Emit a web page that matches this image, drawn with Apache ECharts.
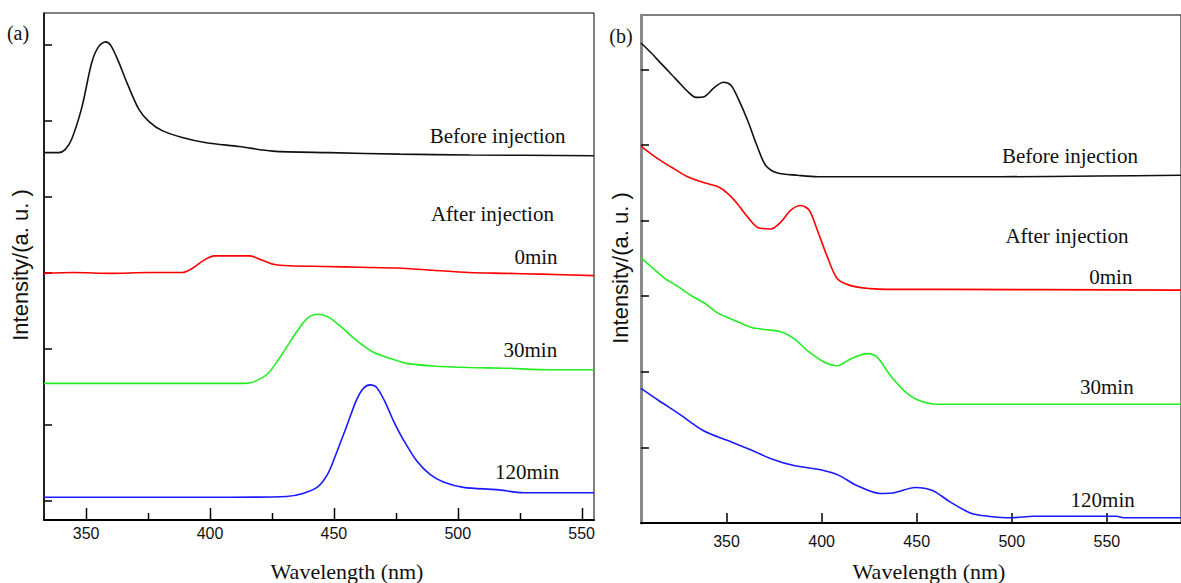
<!DOCTYPE html>
<html><head><meta charset="utf-8">
<script src="https://cdn.jsdelivr.net/npm/echarts@6/dist/echarts.min.js"></script>
<style>html,body{margin:0;padding:0;background:#fff}#c{width:1181px;height:583px}</style>
</head><body><div id="c"></div>
<script>
// ---------- Panel (a): photoluminescence, [wavelength nm, intensity a.u.] ----------
const aBefore = [[333,4.84],[338.9,4.84],[341.5,4.88],[344.2,5.02],[348.3,5.44],[352.3,6.03],[355.1,6.24],[357.9,6.30],[360.0,6.25],[363.2,6.03],[366.5,5.76],[371.3,5.41],[375.4,5.25],[380.7,5.13],[388.8,5.04],[398.5,4.97],[411.9,4.92],[425.2,4.86],[448.3,4.84],[476.6,4.82],[505.0,4.81],[555,4.80]];
const a0min = [[333.0,3.25],[345,3.26],[360,3.25],[375,3.26],[388.7,3.26],[393.1,3.32],[397.4,3.42],[401.7,3.48],[416.2,3.48],[420.5,3.43],[425.6,3.37],[432.1,3.35],[446.6,3.34],[461.0,3.33],[475.5,3.32],[490.0,3.29],[504.5,3.26],[518.9,3.25],[533.4,3.24],[555,3.22]];
const a30min = [[333.0,1.80],[414.0,1.80],[417.7,1.82],[423.4,1.93],[429.2,2.19],[435.0,2.48],[439.4,2.66],[443.7,2.71],[448.0,2.67],[453.8,2.52],[458.2,2.39],[465.4,2.22],[472.6,2.13],[479.9,2.06],[490.0,2.03],[504.5,2.01],[518.9,2.00],[537.7,1.98],[555,1.98]];
const a120min = [[333,0.30],[407.8,0.30],[430.8,0.31],[437.5,0.35],[443.6,0.44],[447.6,0.61],[451.0,0.88],[455.1,1.23],[459.1,1.58],[461.8,1.73],[464.5,1.78],[467.2,1.75],[470.6,1.56],[474.0,1.31],[478.0,1.06],[483.4,0.78],[488.8,0.60],[494.2,0.50],[502.3,0.43],[515.8,0.40],[526.6,0.36],[555,0.36]];
// ---------- Panel (b) ----------
const bBefore = [[305,6.35],[310.3,6.22],[315.5,6.08],[320.8,5.94],[326.0,5.80],[329.5,5.71],[333.9,5.63],[338.3,5.64],[343.5,5.76],[348.4,5.83],[352.3,5.79],[355.8,5.63],[361.0,5.33],[366.3,4.97],[370.6,4.73],[376.8,4.63],[387.3,4.60],[397.8,4.58],[425.7,4.58],[460.8,4.58],[493.3,4.58],[545.8,4.59],[589,4.60]];
const b0min = [[305,4.99],[306.8,4.95],[313.8,4.82],[320.8,4.71],[329.5,4.58],[338.3,4.50],[345.3,4.45],[350.5,4.36],[355.8,4.22],[361.0,4.05],[366.3,3.91],[373.3,3.89],[378.5,3.98],[383.8,4.14],[389.0,4.20],[393.4,4.14],[397.8,3.87],[403.0,3.52],[408.3,3.23],[415.3,3.14],[425.7,3.10],[434.5,3.09],[460.8,3.09],[589,3.08]];
const b30min = [[305,3.51],[310.3,3.39],[317.3,3.24],[324.3,3.13],[331.3,3.01],[338.3,2.91],[345.3,2.78],[352.3,2.70],[362.8,2.59],[369.8,2.56],[378.5,2.53],[385.5,2.44],[392.5,2.28],[401.3,2.13],[408.3,2.08],[415.3,2.17],[424.0,2.24],[429.3,2.19],[436.2,1.95],[443.3,1.75],[450.3,1.63],[460.8,1.57],[513.3,1.57],[589,1.57]];
const b120min = [[305,1.78],[314.3,1.62],[325.2,1.44],[337.9,1.22],[350.7,1.09],[363.5,0.96],[374.5,0.84],[385.4,0.76],[400.0,0.70],[409.1,0.63],[418.2,0.50],[431.0,0.39],[438.3,0.40],[449.2,0.47],[458.3,0.43],[467.5,0.28],[478.5,0.13],[487.5,0.09],[500.3,0.07],[511.3,0.09],[555.1,0.09],[558.7,0.07],[589,0.07]];
// ---------- Ticks and labels ----------
const aMajorTicks = [350,400,450,500,550];
const aMinorTicks = [375,425,475,525];
const bMajorTicks = [350,400,450,500,550];
const aYTicks = [0.26,1.26,2.26,3.26,4.26,5.26,6.26];
const bYTicks = [0,1,2,3,4,5,6];
const aLabels = [["Before injection",516.1,5.06],["After injection",514.0,4.03],["0min",531.6,3.47],["30min",529.3,2.24],["120min",528.0,0.63]];
const bLabels = [["Before injection",530.6,4.85],["After injection",529.0,3.79],["0min",552.1,3.25],["30min",550.0,1.80],["120min",547.8,0.30]];

const serif = "'Liberation Serif','Times New Roman',serif";
const sans = "'Liberation Sans',Arial,sans-serif";

const chart = echarts.init(document.getElementById('c'), null, {renderer:'svg'});

function xAx(grid, min, max, ticks, len, tickShow, margin){
  return {type:'value', gridIndex:grid, min:min, max:max, position:'bottom',
    axisLine:{show:true, lineStyle:{color:'#000', width:2}},
    axisTick:{show:tickShow, inside:true, length:len, customValues:ticks, lineStyle:{color:'#000', width:1.5}},
    axisLabel:{show:true, customValues:ticks, margin:margin, color:'#111', fontSize:16, fontFamily:sans},
    splitLine:{show:false}};
}
function yAx(grid, min, max, ticks, color, width){
  return {type:'value', gridIndex:grid, min:min, max:max,
    axisLine:{show:true, lineStyle:{color:color, width:width}},
    axisTick:{show:true, inside:true, length:8, customValues:ticks, lineStyle:{color:'#000', width:1.5}},
    axisLabel:{show:false}, splitLine:{show:false}};
}
function line(data, color, xi, yi){
  return {type:'line', data:data, xAxisIndex:xi, yAxisIndex:yi, showSymbol:false, symbol:'none',
    smooth:0.3, lineStyle:{color:color, width:1.6}, z:3, silent:true};
}

chart.setOption({
  animation:false,
  backgroundColor:'#fff',
  grid:[
    {left:44, top:13, width:550, height:507, show:true, borderColor:'#000', borderWidth:1},
    {left:641, top:15, width:541, height:508, show:true, borderColor:'#000', borderWidth:1}
  ],
  xAxis:[
    xAx(0, 333, 555, aMajorTicks, 12, false, 5),
    xAx(1, 305, 589, bMajorTicks, 10, true, 10)
  ],
  yAxis:[
    yAx(0, 0, 6.68, aYTicks, '#000', 1.5),
    yAx(1, 0, 6.72, bYTicks, '#8a8a8a', 3)
  ],
  series:[
    line(aBefore,'#111',0,0), line(a0min,'#ff0000',0,0), line(a30min,'#22ee22',0,0), line(a120min,'#1a1aff',0,0),
    line(bBefore,'#111',1,1), line(b0min,'#ff0000',1,1), line(b30min,'#22ee22',1,1), line(b120min,'#1a1aff',1,1)
  ]
});

const g = [];
function txt(x, y, text, font, extra){
  return Object.assign({type:'text', x:x, y:y, silent:true, z:50,
    style:{text:text, font:font, fill:'#111', align:'center', verticalAlign:'middle'}}, extra||{});
}
// inward x-axis ticks of panel (a): positions taken from the axis scale
function tickMark(v, len){
  const p = chart.convertToPixel({xAxisIndex:0, yAxisIndex:0}, [v, 0]);
  const x = Math.round(p[0]) + 0.5;
  return {type:'line', silent:true, z:100,
    shape:{x1:x, y1:p[1], x2:x, y2:p[1]-len},
    style:{stroke:'#000', lineWidth:1.5}};
}
aMajorTicks.forEach(v=>g.push(tickMark(v, 12)));
aMinorTicks.forEach(v=>g.push(tickMark(v, 7)));
aLabels.forEach(l=>{const p = chart.convertToPixel({xAxisIndex:0,yAxisIndex:0},[l[1],l[2]]); g.push(txt(p[0],p[1],l[0],'21px '+serif));});
bLabels.forEach(l=>{const p = chart.convertToPixel({xAxisIndex:1,yAxisIndex:1},[l[1],l[2]]); g.push(txt(p[0],p[1],l[0],'21px '+serif));});
g.push(txt(18,33,'(a)','20px '+serif));
g.push(txt(621,36,'(b)','20px '+serif));
g.push(txt(347,571,'Wavelength (nm)','22px '+serif));
g.push(txt(929,571,'Wavelength (nm)','22px '+serif));
g.push(txt(20,265,'Intensity/(a. u. )','22px '+sans,{rotation:Math.PI/2}));
g.push(txt(620,268,'Intensity/(a. u. )','22px '+sans,{rotation:Math.PI/2}));
chart.setOption({graphic:g});
</script></body></html>
